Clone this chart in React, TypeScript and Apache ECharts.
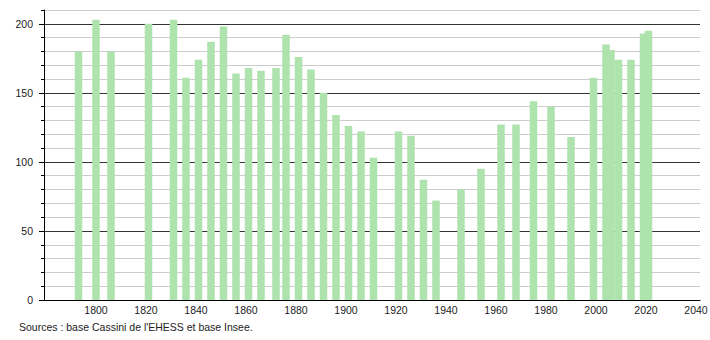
import React, { useEffect, useRef } from "react";
import * as echarts from "echarts";

const years = [1793, 1800, 1806, 1821, 1831, 1836, 1841, 1846, 1851, 1856, 1861, 1866, 1872, 1876, 1881, 1886, 1891, 1896, 1901, 1906, 1911, 1921, 1926, 1931, 1936, 1946, 1954, 1962, 1968, 1975, 1982, 1990, 1999, 2004, 2006, 2009, 2014, 2019, 2021];
const population = [180, 203, 180, 200, 203, 161, 174, 187, 198, 164, 168, 166, 168, 192, 176, 167, 150, 134, 126, 122, 103, 122, 119, 87, 72, 80, 95, 127, 127, 144, 140, 118, 161, 185, 181, 174, 174, 193, 195];
const xTickLabels = [1800, 1820, 1840, 1860, 1880, 1900, 1920, 1940, 1960, 1980, 2000, 2020, 2040];
const yTickLabels = [0, 50, 100, 150, 200];
const sourceText = "Sources : base Cassini de l'EHESS et base Insee.";

const FONT = '"Liberation Sans", Arial, sans-serif';

export default function App() {
  const ref = useRef<HTMLDivElement>(null);
  useEffect(() => {
    document.body.style.margin = "0";
    if (!ref.current) return;
    const chart = echarts.init(ref.current, null, { renderer: "svg" });
    chart.setOption({
      animation: false,
      backgroundColor: "#ffffff",
      grid: { left: 44, right: 10, top: 10, bottom: 40, containLabel: false, outerBoundsMode: "none" },
      xAxis: {
        type: "value",
        min: 1779.2,
        max: 2041.6,
        axisLine: { show: true, lineStyle: { color: "#000", width: 1 } },
        axisTick: { show: false },
        splitLine: { show: false },
        axisLabel: {
          customValues: xTickLabels,
          margin: 4,
          color: "#222",
          fontSize: 10.5,
          fontFamily: FONT,
          formatter: (v: number) => String(v),
        },
      },
      yAxis: [
        {
          type: "value",
          position: "left",
          min: 0,
          max: 210,
          interval: 10,
          axisLine: { show: true, onZero: false, lineStyle: { color: "#000", width: 1 } },
          axisTick: { show: true, length: 3, lineStyle: { color: "#000" } },
          axisLabel: { show: false },
          splitLine: { show: true, lineStyle: { color: "#cccccc", width: 1 } },
        },
        {
          type: "value",
          position: "left",
          min: 0,
          max: 210,
          interval: 50,
          axisLine: { show: false },
          axisTick: { show: true, length: 5, customValues: yTickLabels, lineStyle: { color: "#000" } },
          axisLabel: {
            customValues: yTickLabels,
            margin: 11,
            color: "#222",
            fontSize: 10.5,
            fontFamily: FONT,
          },
          splitLine: { show: true, lineStyle: { color: "#333333", width: 1 } },
        },
      ],
      series: [
        {
          type: "bar",
          yAxisIndex: 0,
          barWidth: 7.5,
          itemStyle: { color: "#aee3ae" },
          data: years.map((y, i) => [y, population[i]]),
          z: 5,
        },
      ],
      graphic: [
        {
          type: "text",
          left: 19,
          top: 321,
          style: { text: sourceText, font: `10.5px ${FONT}`, fill: "#222" },
        },
      ],
    });
    return () => chart.dispose();
  }, []);
  return <div ref={ref} style={{ width: 710, height: 340 }} />;
}
